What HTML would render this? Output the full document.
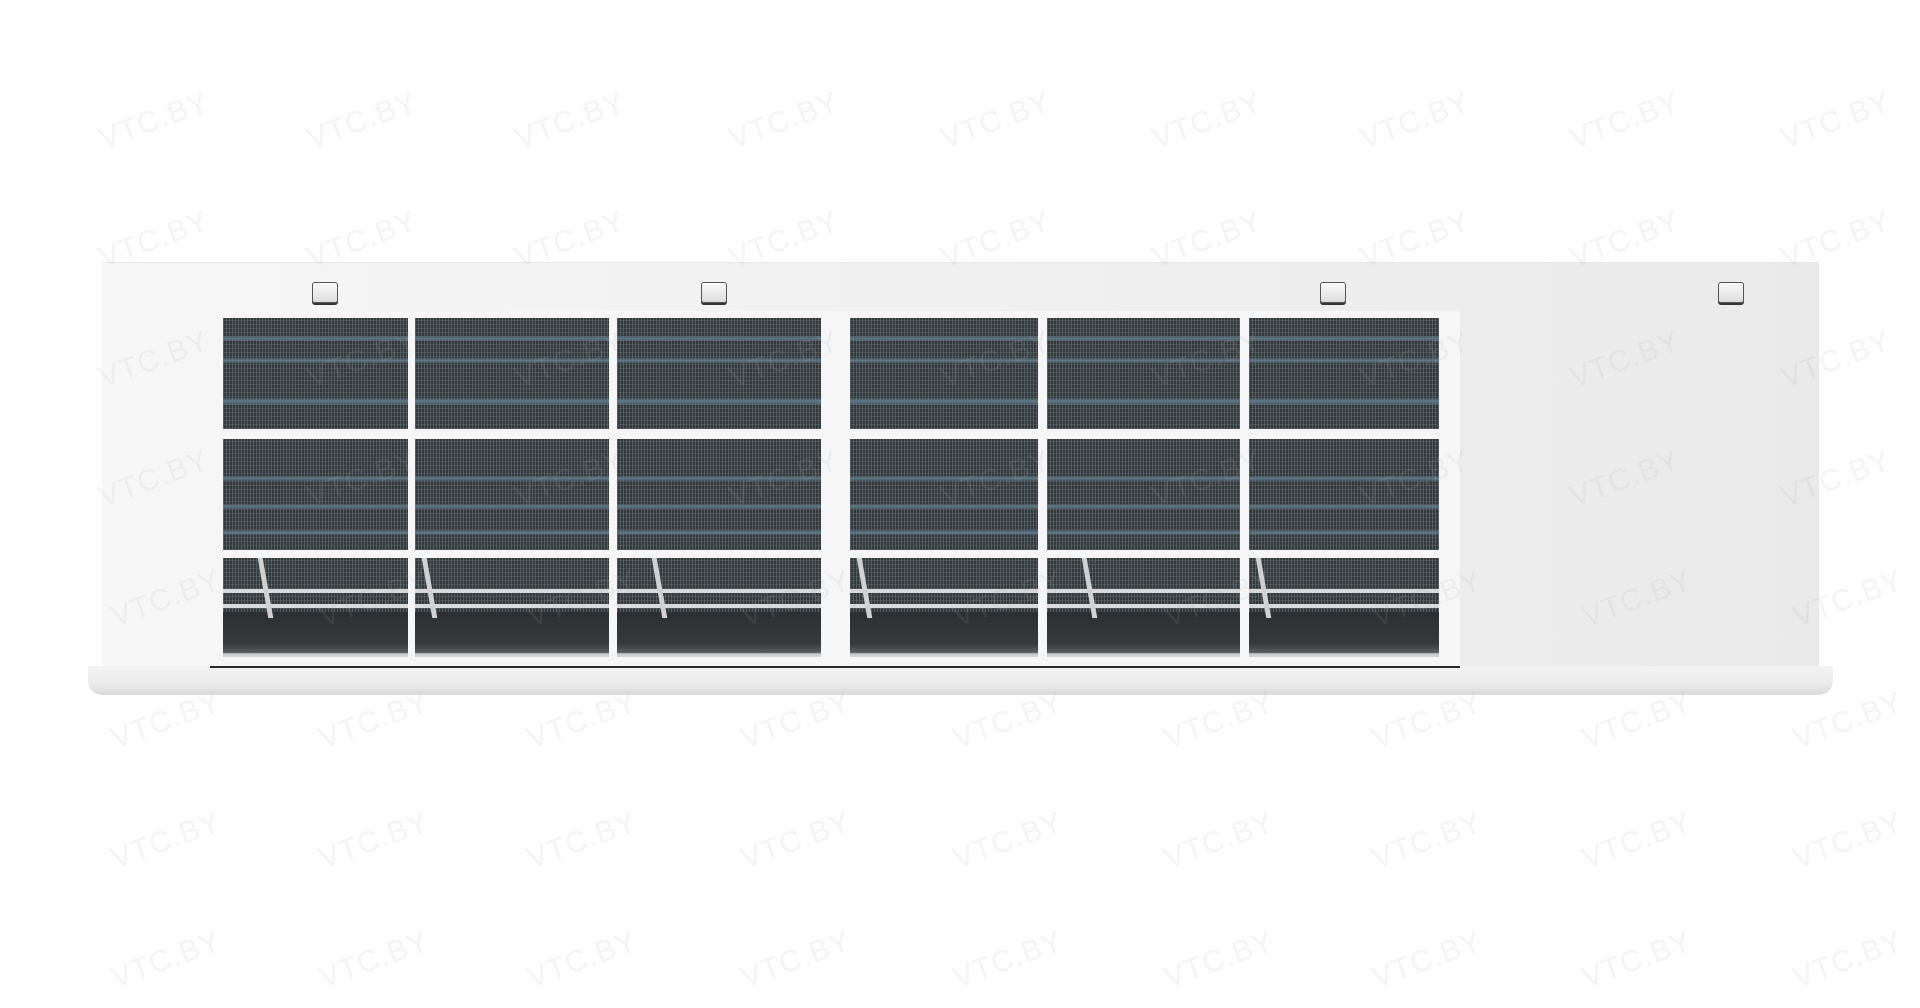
<!DOCTYPE html>
<html><head><meta charset="utf-8">
<style>
html,body{margin:0;padding:0;}
body{width:1920px;height:1008px;background:#fff;position:relative;overflow:hidden;font-family:"Liberation Sans",sans-serif;}
.abs{position:absolute;}
.body{left:102px;top:262px;width:1717px;height:404px;background:linear-gradient(90deg,#f7f7f7 0%,#f1f1f1 40%,#ececec 80%,#e9e9e9 100%);border-top:1px solid #e6e6e6;}
.lip{left:88px;top:666px;width:1745px;height:29px;border-radius:0 0 14px 14px;background:linear-gradient(180deg,#f3f3f3 0%,#ececec 50%,#dcdcdc 100%);}
.lipline{left:210px;top:666px;width:1250px;height:2px;background:#2a2a2a;}
.frame{left:203px;top:311px;width:1257px;height:355px;background:#f6f6f6;border-radius:0 4px 0 0;}
.cell{position:absolute;overflow:hidden;
 background:
  repeating-linear-gradient(90deg,rgba(110,120,128,.55) 0 1px,transparent 1px 3px),
  repeating-linear-gradient(0deg,rgba(95,105,112,.45) 0 1px,transparent 1px 4px),
  #33383b;}
.stripe{position:absolute;left:0;right:0;height:5px;background:linear-gradient(180deg,rgba(95,125,145,.3),rgba(100,132,152,.8),rgba(95,125,145,.3));}
.dark{position:absolute;left:0;right:0;background:linear-gradient(180deg,#2c2f31 0%,#363a3c 70%,#5a5d5f 90%,#c9cacb 93%,#d4d4d4 100%);}
.bar{position:absolute;left:0;right:0;height:4px;background:#d8d9da;}
.diag{position:absolute;width:5px;height:60px;background:#d0d1d2;top:0;transform:skewX(10deg);}
.clip{position:absolute;width:24px;height:19px;border:1px solid #555;border-radius:3px;background:linear-gradient(180deg,#fafafa,#dcdcdc);box-shadow:0 2px 0 #333;}
.wm{position:absolute;font-size:30px;color:rgba(170,170,170,.13);transform:rotate(-20deg);letter-spacing:1px;white-space:nowrap;}
</style></head><body>
<div class="abs body"></div>
<div class="abs lip"></div>
<div class="abs frame"></div>
<div class="abs lipline"></div>

<div class="clip" style="left:312px;top:282px"></div>
<div class="clip" style="left:701px;top:282px"></div>
<div class="clip" style="left:1320px;top:282px"></div>
<div class="clip" style="left:1718px;top:282px"></div>

<div id="cells"></div>
<script>
var cols=[[223,408],[415,609],[617,821],[850,1038],[1047,1240],[1249,1439]];
var rows=[[318,429],[439,550],[558,657]];
var h='';
cols.forEach(function(c,ci){
 rows.forEach(function(r,ri){
  var s='left:'+c[0]+'px;top:'+r[0]+'px;width:'+(c[1]-c[0])+'px;height:'+(r[1]-r[0])+'px';
  var inner='';
  if(ri==0){inner='<div class="stripe" style="top:18px"></div><div class="stripe" style="top:40px"></div><div class="stripe" style="top:80px;height:7px"></div>';}
  if(ri==1){inner='<div class="stripe" style="top:37px"></div><div class="stripe" style="top:65px"></div><div class="stripe" style="top:91px"></div>';}
  if(ri==2){inner='<div class="bar" style="top:31px"></div><div class="bar" style="top:46px"></div><div class="dark" style="top:54px;bottom:0"></div><div class="diag" style="left:'+(ci%2?12:40)+'px"></div>';}
  h+='<div class="cell" style="'+s+'">'+inner+'</div>';
 });
});
document.getElementById('cells').innerHTML=h;
var xs=[147,355,563,777,989,1200,1408,1618,1829];
var ys=[122,241,361,480,600,722,842,961];
var w='';
ys.forEach(function(y,i){xs.forEach(function(x){
 var dx=i>=4?12:0;
 w+='<div class="wm" style="left:'+(x-50+dx)+'px;top:'+(y-18)+'px">VTC.BY</div>';
});});
document.body.insertAdjacentHTML('beforeend',w);
</script>
</body></html>
